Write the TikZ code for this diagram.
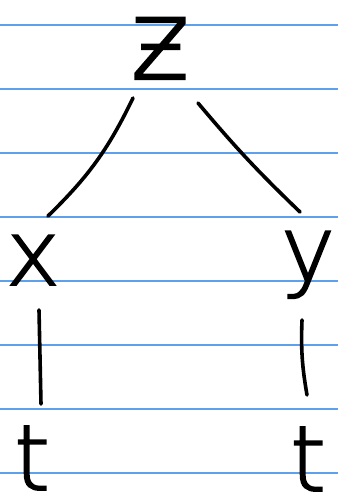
\documentclass[tikz,border=0pt]{standalone}
\usepackage{fontspec}
\newfontfamily\hand{DejaVu Sans ExtraLight}[FakeBold=2]
\usetikzlibrary{calc}
\definecolor{ruleblue}{RGB}{95,160,235}
\tikzset{
  letter/.style={inner sep=0pt, anchor=base, font=\hand\fontsize{91}{91}\selectfont, text=black},
  bigletter/.style={letter, font=\hand\fontsize{112}{112}\selectfont},
  edge/.style={line width=3.6pt, line cap=round, black},
  ruling/.style={line width=1.3pt, ruleblue}
}
\begin{document}
\begin{tikzpicture}[x=1pt,y=1pt]
\fill[white] (0,0) rectangle (338,497);
\useasboundingbox (0,0) rectangle (338,497);
\foreach \yy in {24,88,152,216,280,344,408,472} {
  \draw[ruling] (0,\yy) -- (338,\yy);
}
\node[bigletter] (z) at (160,418) {ƶ};
\node[letter] (x) at (33,212) {x};
\node[letter] (y) at (308,216) {y};
\node[letter] (tl) at (32,7) {t};
\node[letter] (tr) at (308,6) {t};
\draw[edge] ($(z.base)+(-27,-19)$) to[bend left=10] ($(x.base)+(15,69)$);
\draw[edge] ($(z.base)+(38,-24)$) to[bend right=3] ($(y.base)+(-8,69)$);
\draw[edge] ($(x.base)+(6,-25)$) -- ($(tl.base)+(9,86)$);
\draw[edge] ($(y.base)+(-6,-39)$) to[bend right=6] ($(tr.base)+(-1,96)$);
\end{tikzpicture}
\end{document}
